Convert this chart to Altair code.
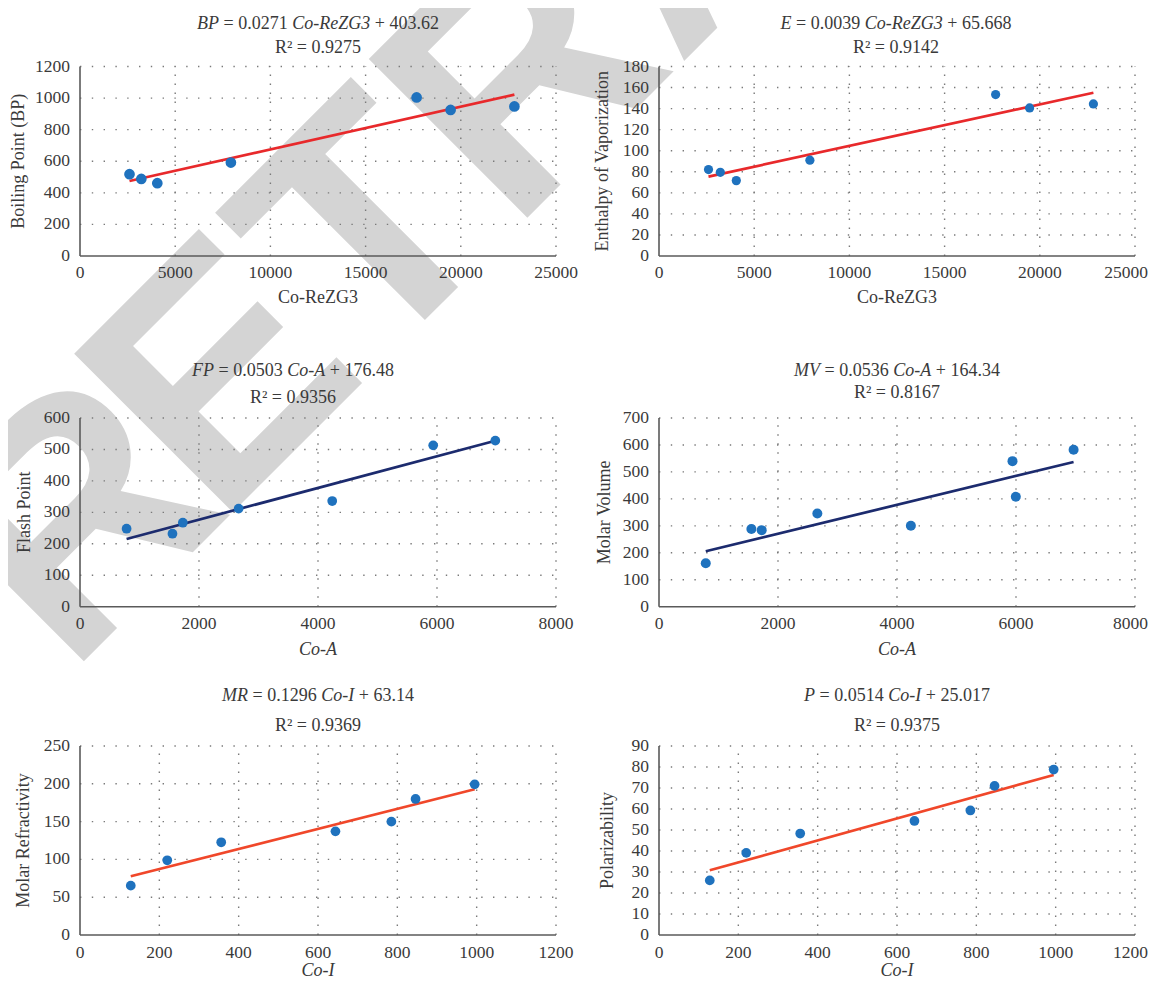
import altair as alt
import pandas as pd

# ---------------- data ----------------
co_rezg3 = [2600, 3220, 4060, 7925, 17680, 19465, 22815]
boiling_point = [518, 488, 461, 592, 1004, 925, 947]
enthalpy = [82.1, 79.5, 71.6, 91.0, 153.3, 140.6, 144.4]

co_a_fp = [783, 1554, 1728, 2666, 4239, 5936, 6980]
flash_point = [248, 232, 267, 312, 336, 513, 528]
co_a_mv = [786, 1553, 1726, 2661, 4233, 5941, 5997, 6968]
molar_volume = [161, 288, 284, 346, 300, 540, 408, 582]

co_i = [128, 220, 356, 644, 785, 846, 995]
molar_refractivity = [65.3, 98.8, 122.6, 137.1, 149.9, 179.9, 199.3]
polarizability = [26.0, 39.1, 48.3, 54.3, 59.3, 71.0, 78.8]

ticks_rezg3 = [0, 5000, 10000, 15000, 20000, 25000]
ticks_co_a = [0, 2000, 4000, 6000, 8000]
ticks_co_i = [0, 200, 400, 600, 800, 1000, 1200]
ticks_bp = [0, 200, 400, 600, 800, 1000, 1200]
ticks_e = [0, 20, 40, 60, 80, 100, 120, 140, 160, 180]
ticks_fp = [0, 100, 200, 300, 400, 500, 600]
ticks_mv = [0, 100, 200, 300, 400, 500, 600, 700]
ticks_mr = [0, 50, 100, 150, 200, 250]
ticks_p = [0, 10, 20, 30, 40, 50, 60, 70, 80, 90]

eq_lhs = ["BP", "E", "FP", "MV", "MR", "P"]
eq_coef = ["0.0271", "0.0039", "0.0503", "0.0536", "0.1296", "0.0514"]
eq_var = ["Co-ReZG3", "Co-ReZG3", "Co-A", "Co-A", "Co-I", "Co-I"]
eq_const = ["403.62", "65.668", "176.48", "164.34", "63.14", "25.017"]
r_squared = ["0.9275", "0.9142", "0.9356", "0.8167", "0.9369", "0.9375"]
x_titles = ["Co-ReZG3", "Co-ReZG3", "Co-A", "Co-A", "Co-I", "Co-I"]
y_titles = ["Boiling Point (BP)", "Enthalpy of Vaporization", "Flash Point",
            "Molar Volume", "Molar Refractivity", "Polarizability"]
watermark = "RETRACTED"

# ---------------- layout / style ----------------
W, H = 1141, 969
RIGHT_EDGE = 1140
XR = {"L": [72, 548], "R": [651, 1127]}
YR = [[248, 58.5], [598.7, 410], [927, 738]]
SERIF = "Liberation Serif"
TXT = "#3a3a3a"
AXC = "#5a5a5a"
BLUE = "#1f72be"
GRID = "#7a7a7a"
TITLE_FS = 18
LABEL_FS = 17.5

panels = [
    dict(x=co_rezg3, y=boiling_point, xt=ticks_rezg3, yt=ticks_bp, col="L", row=0,
         line="#e8292b", size=115, xital=False, lp=21.5, xty=46.5, ytx=-56,
         cx=310, b1=21.3, b2=45.3),
    dict(x=co_rezg3, y=enthalpy, xt=ticks_rezg3, yt=ticks_e, col="R", row=0,
         line="#e8292b", size=85, xital=False, lp=21.5, xty=46.5, ytx=-51,
         cx=888, b1=21.3, b2=45.3),
    dict(x=co_a_fp, y=flash_point, xt=ticks_co_a, yt=ticks_fp, col="L", row=1,
         line="#1c2b6e", size=95, xital=True, lp=21.8, xty=48.4, ytx=-50,
         cx=285, b1=368, b2=394.7),
    dict(x=co_a_mv, y=molar_volume, xt=ticks_co_a, yt=ticks_mv, col="R", row=1,
         line="#1c2b6e", size=100, xital=True, lp=21.8, xty=48.4, ytx=-49,
         cx=889, b1=368, b2=389.7),
    dict(x=co_i, y=molar_refractivity, xt=ticks_co_i, yt=ticks_mr, col="L", row=2,
         line="#f0472a", size=95, xital=True, lp=22.5, xty=40.5, ytx=-51,
         cx=310, b1=693, b2=722.7),
    dict(x=co_i, y=polarizability, xt=ticks_co_i, yt=ticks_p, col="R", row=2,
         line="#f0472a", size=95, xital=True, lp=22.5, xty=40.5, ytx=-46.5,
         cx=889, b1=693, b2=722.7),
]


def build_panel(i, p):
    xr, yr = XR[p["col"]], YR[p["row"]]
    x0, x1 = p["xt"][0], p["xt"][-1]
    y0, y1 = p["yt"][0], p["yt"][-1]
    xs = alt.Scale(domain=[x0, x1], range=xr, nice=False, zero=False)
    ys = alt.Scale(domain=[y0, y1], range=yr, nice=False, zero=False)

    def X(f):
        return alt.X(f, scale=xs, axis=None)

    def Y(f):
        return alt.Y(f, scale=ys, axis=None)

    df = pd.DataFrame({"x": p["x"], "y": p["y"]})
    hg = pd.DataFrame({"v": p["yt"][1:], "a": x0, "b": x1})
    vg = pd.DataFrame({"v": p["xt"][1:], "a": y0, "b": y1})

    hgrid = alt.Chart(hg).mark_rule(color=GRID, strokeWidth=1.4, strokeDash=[1.4, 10.4]).encode(
        y=Y("v:Q"), x=X("a:Q"), x2="b:Q")
    vgrid = alt.Chart(vg).mark_rule(color=GRID, strokeWidth=1.4, strokeDash=[1.4, 7.6]).encode(
        x=X("v:Q"), y=Y("a:Q"), y2="b:Q")

    xdom = alt.Chart(pd.DataFrame({"a": [x0], "b": [x1], "c": [y0]})).mark_rule(
        color=AXC, strokeWidth=1.6).encode(x=X("a:Q"), x2="b:Q", y=Y("c:Q"))
    ydom = alt.Chart(pd.DataFrame({"a": [x0], "c": [y0], "d": [y1]})).mark_rule(
        color=AXC, strokeWidth=1.6).encode(x=X("a:Q"), y=Y("c:Q"), y2="d:Q")

    # x tick labels; on the right-hand panels the last label is kept inside the picture
    xticks = p["xt"] if p["col"] == "L" else p["xt"][:-1]
    xl = pd.DataFrame({"v": xticks, "a": y0, "lab": [str(v) for v in xticks]})
    yl = pd.DataFrame({"v": p["yt"], "a": x0, "lab": [str(v) for v in p["yt"]]})
    xlab = alt.Chart(xl).mark_text(font=SERIF, fontSize=LABEL_FS, color=TXT, align="center",
                                   baseline="alphabetic", dy=p["lp"]).encode(
        x=X("v:Q"), y=Y("a:Q"), text="lab:N")
    ylab = alt.Chart(yl).mark_text(font=SERIF, fontSize=LABEL_FS, color=TXT, align="right",
                                   baseline="middle", dx=-10).encode(
        x=X("a:Q"), y=Y("v:Q"), text="lab:N")
    parts = [hgrid, vgrid, xdom, ydom]

    fit = alt.Chart(df).transform_regression("x", "y").mark_line(
        color=p["line"], strokeWidth=2.7).encode(x=X("x:Q"), y=Y("y:Q"))
    pts = alt.Chart(df).mark_circle(size=p["size"], color=BLUE, opacity=1).encode(
        x=X("x:Q"), y=Y("y:Q"))
    parts += [fit, pts, xlab, ylab]
    if p["col"] == "R":
        last = pd.DataFrame({"v": [x1], "a": [y0], "lab": [str(x1)]})
        parts.append(alt.Chart(last).mark_text(
            font=SERIF, fontSize=LABEL_FS, color=TXT, align="right", baseline="alphabetic",
            dy=p["lp"], dx=RIGHT_EDGE - xr[1]).encode(x=X("v:Q"), y=Y("a:Q"), text="lab:N"))
    return alt.layer(*parts)


# ---- titles with italic parts (Times-compatible advance widths) ----
REG = {" ": 250, "=": 564, "+": 564, ".": 250, "-": 333}
for d in "0123456789":
    REG[d] = 500
ITA = {"B": 611, "P": 611, "C": 667, "o": 500, "-": 333, "R": 611, "e": 444, "Z": 556,
       "G": 722, "3": 500, "E": 611, "F": 611, "M": 833, "V": 611, "A": 611, "I": 333, " ": 250}


def tw(s, ital):
    t = ITA if ital else REG
    return sum(t[c] for c in s) * TITLE_FS / 1000.0


ital_rows, norm_rows, r2_rows = [], [], []
xt_ital, xt_norm, yt_rows = [], [], []
for i, p in enumerate(panels):
    toks = [(eq_lhs[i], True), (" = " + eq_coef[i] + " ", False),
            (eq_var[i], True), (" + " + eq_const[i], False)]
    total = sum(tw(t, it) for t, it in toks)
    x = p["cx"] - total / 2.0
    for t, it in toks:
        lead = len(t) - len(t.lstrip(" "))
        row = {"t": t.strip(), "px": x + lead * 250 * TITLE_FS / 1000.0, "py": p["b1"]}
        (ital_rows if it else norm_rows).append(row)
        x += tw(t, it)
    r2_rows.append({"t": "R\u00b2 = " + r_squared[i], "px": p["cx"], "py": p["b2"]})
    xr, yr = XR[p["col"]], YR[p["row"]]
    xrow = {"t": x_titles[i], "px": (xr[0] + xr[1]) / 2.0, "py": yr[0] + p["xty"]}
    (xt_ital if p["xital"] else xt_norm).append(xrow)
    yt_rows.append({"t": y_titles[i], "px": xr[0] + p["ytx"], "py": (yr[0] + yr[1]) / 2.0})


def text_layer(rows, style, align, angle=0):
    return alt.Chart(pd.DataFrame(rows)).mark_text(
        font=SERIF, fontSize=TITLE_FS, fontStyle=style, color=TXT, align=align,
        baseline="alphabetic", angle=angle).encode(
        x=alt.X("px:Q", scale=None, axis=None), y=alt.Y("py:Q", scale=None, axis=None),
        text="t:N")


# ---- watermark: bold sans letters along a 45 degree baseline ----
ADV = {"R": 0.722, "E": 0.667, "T": 0.611, "A": 0.722, "C": 0.722, "D": 0.722}
WM_FS = 326
WM_EXTRA = [-24.8, 0, 0, 0, 0, 0, 0, 0, 0]  # extra spacing after each letter
WM_START = -430.0                           # first letter position along the baseline
WM_BASE = 745 / 2.0 - 8                     # baseline passes through (WM_BASE, WM_BASE)
c45 = 0.7071068
wm_rows, u = [], WM_START
for k, ch in enumerate(watermark):
    wm_rows.append({"ch": ch, "px": WM_BASE + u * c45, "py": WM_BASE - u * c45})
    u += ADV[ch] * WM_FS + WM_EXTRA[k]
wm = alt.Chart(pd.DataFrame(wm_rows)).mark_text(
    angle=315, align="left", baseline="alphabetic", font="Liberation Sans", fontWeight="bold",
    fontSize=WM_FS, color="#d4d4d4", clip=True).encode(
    x=alt.X("px:Q", scale=None, axis=None), y=alt.Y("py:Q", scale=None, axis=None),
    text="ch:N")

layers = [wm] + [build_panel(i, p) for i, p in enumerate(panels)] + [
    text_layer(ital_rows, "italic", "left"),
    text_layer(norm_rows, "normal", "left"),
    text_layer(r2_rows, "normal", "center"),
    text_layer(xt_ital, "italic", "center"),
    text_layer(xt_norm, "normal", "center"),
    text_layer(yt_rows, "normal", "center", angle=270),
]

chart = alt.layer(*layers).resolve_scale(x="independent", y="independent").properties(
    width=W, height=H, autosize=alt.AutoSizeParams(type="none"), padding=0,
    background="white",
).configure_view(strokeWidth=0)

chart.save("out.html", embed_options={"renderer": "svg", "actions": False})
